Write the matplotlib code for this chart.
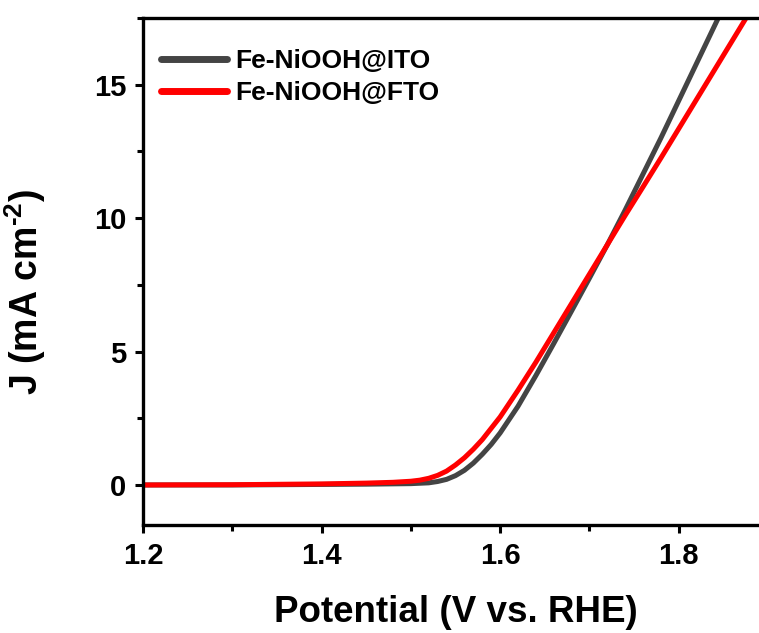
import matplotlib
matplotlib.use("Agg")
import matplotlib.pyplot as plt
from matplotlib.ticker import MultipleLocator

plt.rcParams['font.family'] = ['Liberation Sans', 'DejaVu Sans']
plt.rcParams['font.weight'] = 'bold'
plt.rcParams['mathtext.fontset'] = 'custom'
plt.rcParams['mathtext.bf'] = 'Liberation Sans:bold'
plt.rcParams['mathtext.rm'] = 'Liberation Sans:bold'

# Data
v_ito = [1.20, 1.30, 1.40, 1.45, 1.50, 1.52, 1.53, 1.54, 1.55, 1.56, 1.57, 1.58, 1.59,
         1.60, 1.62, 1.64, 1.66, 1.68, 1.70, 1.72, 1.74, 1.76, 1.78, 1.80, 1.82, 1.84, 1.86]
j_ito = [0.00, 0.00, 0.02, 0.03, 0.05, 0.08, 0.13, 0.21, 0.35, 0.55, 0.82, 1.15, 1.52,
         1.95, 2.95, 4.10, 5.30, 6.52, 7.75, 9.00, 10.30, 11.65, 13.00, 14.40, 15.80, 17.20, 18.60]

v_fto = [1.20, 1.30, 1.40, 1.45, 1.48, 1.50, 1.51, 1.52, 1.53, 1.54, 1.55, 1.56, 1.57,
         1.58, 1.60, 1.62, 1.64, 1.66, 1.68, 1.70, 1.72, 1.74, 1.76, 1.78, 1.80, 1.82,
         1.84, 1.86, 1.88, 1.90]
j_fto = [0.00, 0.01, 0.04, 0.07, 0.10, 0.14, 0.18, 0.25, 0.36, 0.52, 0.75, 1.02, 1.34,
         1.70, 2.55, 3.55, 4.60, 5.70, 6.80, 7.90, 9.00, 10.10, 11.17, 12.25, 13.35, 14.45,
         15.55, 16.65, 17.75, 18.85]

labels = ['Fe-NiOOH@ITO', 'Fe-NiOOH@FTO']
colors = ['#444444', '#ff0000']

fig = plt.figure(figsize=(7.59, 6.33), dpi=100)
ax = fig.add_axes([143/759, 108/633, 625/759, 507/633])

ax.plot(v_ito, j_ito, color=colors[0], lw=3.6, label=labels[0], solid_capstyle='round')
ax.plot(v_fto, j_fto, color=colors[1], lw=3.6, label=labels[1], solid_capstyle='round')

ax.set_xlim(1.2, 1.9)
ax.set_ylim(-1.5, 17.5)
ax.xaxis.set_major_locator(MultipleLocator(0.2))
ax.xaxis.set_minor_locator(MultipleLocator(0.1))
ax.yaxis.set_major_locator(MultipleLocator(5))
ax.yaxis.set_minor_locator(MultipleLocator(2.5))

for s in ax.spines.values():
    s.set_linewidth(2.4)
ax.tick_params(which='major', direction='out', length=6, width=2.2, labelsize=21, pad=6)
ax.tick_params(which='minor', direction='out', length=4, width=2.2)
ax.tick_params(top=False, right=False, which='both')
for lab in ax.get_xticklabels() + ax.get_yticklabels():
    lab.set_fontweight('bold')

ax.set_xlabel('Potential (V vs. RHE)', fontsize=26.5, fontweight='bold', labelpad=18)
ax.set_ylabel(r'J (mA cm$^{\mathbf{\text{-}2}}$)', fontsize=27, fontweight='bold')
ax.yaxis.set_label_coords(-0.152, 0.46)

leg = ax.legend(loc='upper left', frameon=False, fontsize=19, handlelength=2.5,
                handletextpad=0.3, labelspacing=0.3, borderaxespad=0.3,
                bbox_to_anchor=(0.0, 0.975))
for t in leg.get_texts():
    t.set_fontweight('bold')
for l in leg.get_lines():
    l.set_linewidth(5)

fig.savefig('out.png', dpi=100)
